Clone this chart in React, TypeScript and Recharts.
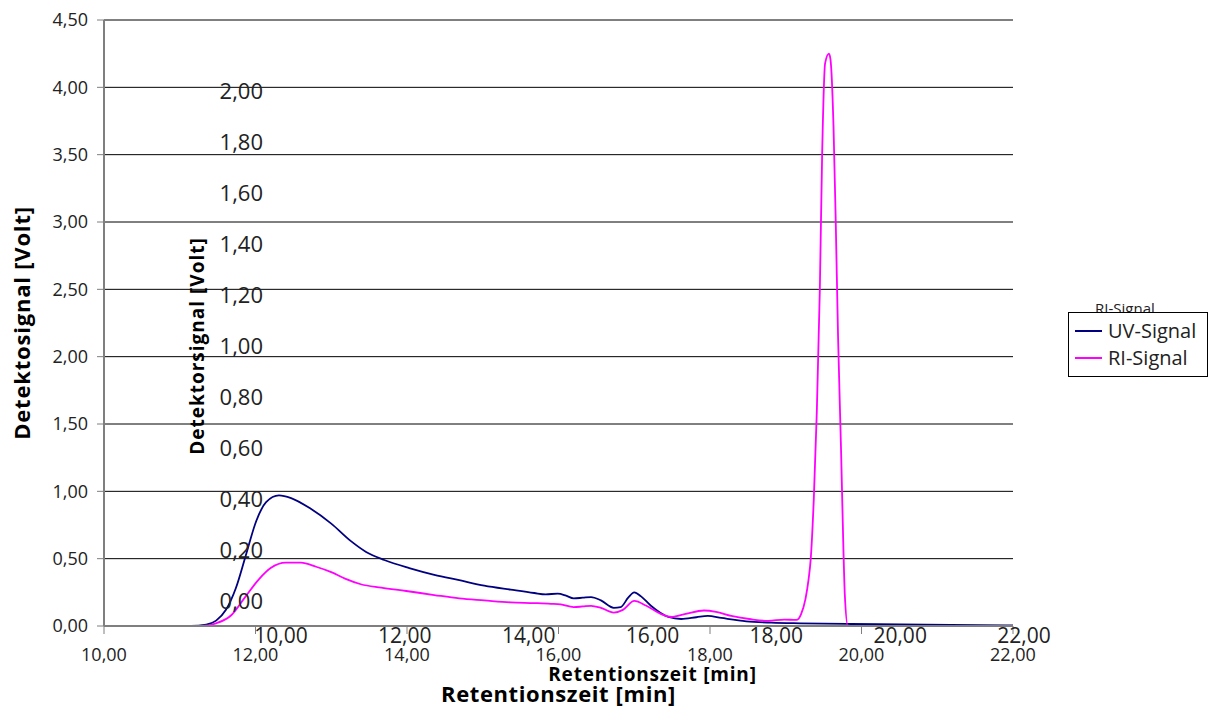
import { LineChart, Line, XAxis, YAxis, CartesianGrid, Legend } from 'recharts'

// retention time [min] and detector signal [V]
const uvTime = [10.86, 11.15, 11.35, 11.48, 11.61, 11.74, 11.87, 12.01, 12.14, 12.31, 12.47, 12.73, 13.0, 13.26, 13.46, 13.7, 14.03, 14.36, 14.69, 15.02, 15.37, 15.68, 15.83, 15.99, 16.1, 16.2, 16.32, 16.43, 16.56, 16.73, 16.82, 16.92, 17.0, 17.09, 17.22, 17.45, 17.62, 17.82, 17.97, 18.15, 18.48, 18.81, 19.2, 19.86, 20.52, 21.18, 22.0]
const uvSignal = [0, 0, 0.01, 0.04, 0.12, 0.28, 0.52, 0.78, 0.92, 0.97, 0.95, 0.87, 0.76, 0.63, 0.55, 0.49, 0.43, 0.38, 0.34, 0.3, 0.27, 0.245, 0.235, 0.24, 0.225, 0.205, 0.21, 0.215, 0.19, 0.135, 0.14, 0.21, 0.25, 0.22, 0.15, 0.067, 0.052, 0.065, 0.075, 0.06, 0.035, 0.025, 0.02, 0.015, 0.012, 0.008, 0.005]

const riTime = [10.86, 11.28, 11.48, 11.68, 11.87, 12.05, 12.2, 12.4, 12.6, 12.8, 13.0, 13.19, 13.39, 13.66, 13.99, 14.36, 14.69, 15.02, 15.37, 15.68, 15.9, 16.03, 16.2, 16.32, 16.43, 16.56, 16.73, 16.85, 17.0, 17.16, 17.35, 17.49, 17.68, 17.92, 18.08, 18.28, 18.54, 18.77, 18.98, 19.14, 19.2, 19.26, 19.3, 19.33, 19.37, 19.41, 19.45, 19.48, 19.52, 19.57, 19.59, 19.63, 19.66, 19.69, 19.73, 19.76, 19.78, 19.82, 20.5, 21.2, 22.0]
const riSignal = [0, 0, 0.02, 0.08, 0.22, 0.35, 0.43, 0.47, 0.47, 0.44, 0.4, 0.35, 0.31, 0.285, 0.26, 0.23, 0.205, 0.19, 0.175, 0.17, 0.165, 0.16, 0.14, 0.145, 0.15, 0.135, 0.1, 0.12, 0.186, 0.15, 0.09, 0.067, 0.09, 0.115, 0.105, 0.075, 0.05, 0.038, 0.048, 0.045, 0.085, 0.2, 0.34, 0.5, 0.94, 1.59, 2.5, 3.49, 4.18, 4.25, 4.21, 3.72, 3.0, 2.16, 1.31, 0.6, 0.23, 0, 0, 0, 0]

const seriesNames = ['UV-Signal', 'RI-Signal']
const timeTicks = [10, 12, 14, 16, 18, 20, 22]
const voltTicks = [0, 0.5, 1, 1.5, 2, 2.5, 3, 3.5, 4, 4.5]
const riVoltTicks = [0, 0.2, 0.4, 0.6, 0.8, 1, 1.2, 1.4, 1.6, 1.8, 2]

const uvRows = uvTime.map((t, i) => ({ t, v: uvSignal[i] }))
const riRows = riTime.map((t, i) => ({ t, v: riSignal[i] }))

const fmt = (v: number) => v.toFixed(2).replace('.', ',')
const FONT = "'Open Sans', sans-serif"
const AXIS_GREY = '#7f7f7f'
const TEXT = '#222'

function SignalLegend({ payload }: { payload?: Array<{ value: string; color: string }> }) {
  const items = [...(payload ?? [])].sort((a, b) => seriesNames.indexOf(a.value) - seriesNames.indexOf(b.value))
  return (
    <div style={{ position: 'relative', width: 140, height: 65, fontFamily: FONT }}>
      <span style={{ position: 'absolute', left: 27, top: -14, fontSize: 15, color: TEXT }}>RI-Signal</span>
      <div style={{ position: 'absolute', inset: 0, border: '1px solid #000', background: '#fff', padding: '4px 0 0 6px' }}>
        {items.map((p) => (
          <div key={p.value} style={{ display: 'flex', alignItems: 'center', height: 27, fontSize: 20, color: TEXT }}>
            <span style={{ width: 27, height: 0, borderTop: `2px solid ${p.color}`, marginRight: 6 }} />
            {p.value}
          </div>
        ))}
      </div>
    </div>
  )
}

export default function App() {
  return (
    <div style={{ position: 'relative', width: 1215, height: 708, background: '#fff' }}>
      <style>{'body{margin:0}'}</style>
      <div style={{ position: 'absolute', left: 0, top: 0 }}>
        <LineChart width={1215} height={708} margin={{ top: 20, right: 202, bottom: 0, left: 0 }}>
          <CartesianGrid xAxisId="t" yAxisId="v" horizontal vertical={false} stroke="#000" strokeWidth={1} />
          <XAxis
            xAxisId="t" dataKey="t" type="number" domain={[10, 22]} ticks={timeTicks} height={82}
            tickFormatter={fmt} tickSize={8} tickMargin={14}
            tick={{ fontSize: 18, fill: TEXT, fontFamily: FONT }}
            axisLine={{ stroke: AXIS_GREY, strokeWidth: 2 }} tickLine={{ stroke: AXIS_GREY }}
            label={{ value: 'Retentionszeit [min]', position: 'insideBottom', offset: 6, style: { fontSize: 22, fontWeight: 700, letterSpacing: 0.6, fill: '#000', fontFamily: FONT } }}
          />
          <XAxis xAxisId="frame" orientation="top" type="number" domain={[10, 22]} height={0} tick={false} tickLine={false} axisLine={{ stroke: AXIS_GREY }} />
          <YAxis
            yAxisId="v" type="number" domain={[0, 4.5]} ticks={voltTicks} width={104}
            tickFormatter={fmt} tickSize={7} tickMargin={9}
            tick={{ fontSize: 18, fill: TEXT, fontFamily: FONT }}
            axisLine={{ stroke: AXIS_GREY, strokeWidth: 2 }} tickLine={{ stroke: AXIS_GREY }}
            label={{ value: 'Detektosignal [Volt]', angle: -90, position: 'insideLeft', offset: 22, style: { textAnchor: 'middle', fontSize: 22, fontWeight: 700, letterSpacing: 0.8, fill: '#000', fontFamily: FONT } }}
          />
          <YAxis yAxisId="frame" orientation="right" type="number" domain={[0, 4.5]} width={0} tick={false} tickLine={false} axisLine={{ stroke: AXIS_GREY }} />
          <Line xAxisId="t" yAxisId="v" data={uvRows} dataKey="v" name={seriesNames[0]} type="monotone" stroke="#000080" strokeWidth={1.8} dot={false} isAnimationActive={false} />
          <Line xAxisId="t" yAxisId="v" data={riRows} dataKey="v" name={seriesNames[1]} type="monotone" stroke="#ff00ff" strokeWidth={1.8} dot={false} isAnimationActive={false} />
          <Legend layout="vertical" align="center" verticalAlign="middle" content={<SignalLegend />}
            wrapperStyle={{ position: 'absolute', left: 1068, top: 312, width: 140, height: 65 }} />
        </LineChart>
      </div>

      {/* second pair of axes for the RI detector, laid over the main plot */}
      <div style={{ position: 'absolute', left: 0, top: 0, pointerEvents: 'none' }}>
        <LineChart width={1215} height={708} margin={{ top: 91, right: 191, bottom: 0, left: 0 }}>
          <XAxis
            dataKey="t" type="number" domain={[10, 22]} ticks={timeTicks} height={107} allowDataOverflow
            tickFormatter={fmt} tickSize={0} tickMargin={27} axisLine={false} tickLine={false}
            tick={{ fontSize: 21, fill: TEXT, fontFamily: FONT }}
            label={{ value: 'Retentionszeit [min]', position: 'insideBottom', offset: 27, style: { fontSize: 19, fontWeight: 700, letterSpacing: 0.8, fill: '#000', fontFamily: FONT } }}
          />
          <YAxis
            type="number" domain={[0, 2]} ticks={riVoltTicks} width={281} allowDataOverflow
            tickFormatter={fmt} tickSize={0} tickMargin={18} axisLine={false} tickLine={false}
            tick={{ fontSize: 22, fill: TEXT, fontFamily: FONT }}
            label={{ value: 'Detektorsignal [Volt]', angle: -90, position: 'insideLeft', offset: 197, style: { textAnchor: 'middle', fontSize: 19, fontWeight: 700, letterSpacing: 1, fill: '#000', fontFamily: FONT } }}
          />
        </LineChart>
      </div>
    </div>
  )
}
